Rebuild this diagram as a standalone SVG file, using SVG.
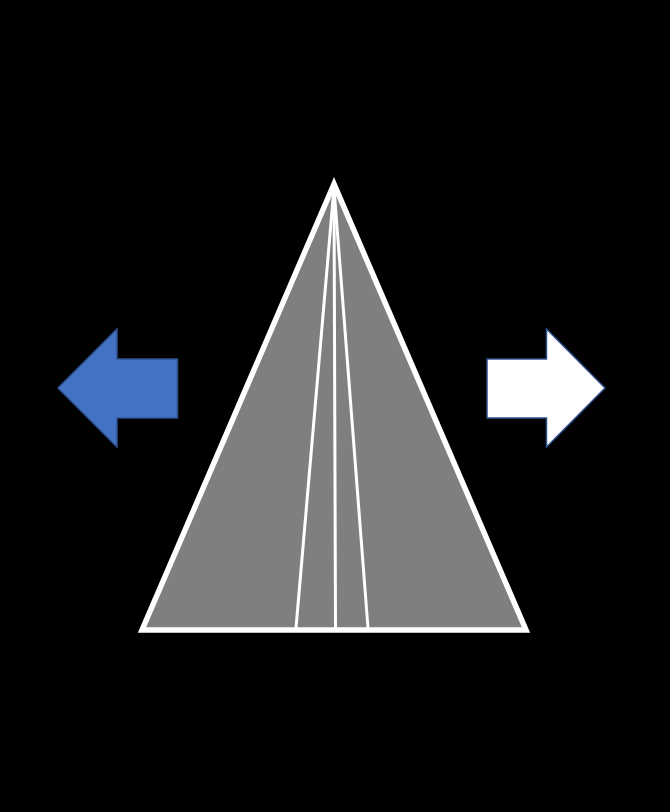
<svg xmlns="http://www.w3.org/2000/svg" width="670" height="812" viewBox="0 0 670 812">
<style>
.arrow{stroke:#2F528F;stroke-width:1.5;stroke-linejoin:miter}
.inner{stroke:#FFFFFF;stroke-width:3;fill:none}
</style>
<rect width="670" height="812" fill="#000000"/>
<g id="triangle">
<polygon points="334,184 142,630 526,630" fill="#7F7F7F" stroke="#FFFFFF" stroke-width="5.5" stroke-linejoin="miter"/>
<line class="inner" x1="334" y1="188" x2="296" y2="628"/>
<line class="inner" x1="334" y1="188" x2="335.5" y2="628"/>
<line class="inner" x1="334" y1="188" x2="368" y2="628"/>
</g>
<g id="left-arrow">
<polygon class="arrow" fill="#4472C4" points="58,388 117,329 117,359 177.5,359 177.5,418 117,418 117,447"/>
</g>
<g id="right-arrow">
<polygon class="arrow" fill="#FFFFFF" points="605,388 546.5,329 546.5,359 487,359 487,418 546.5,418 546.5,447"/>
</g>
</svg>
